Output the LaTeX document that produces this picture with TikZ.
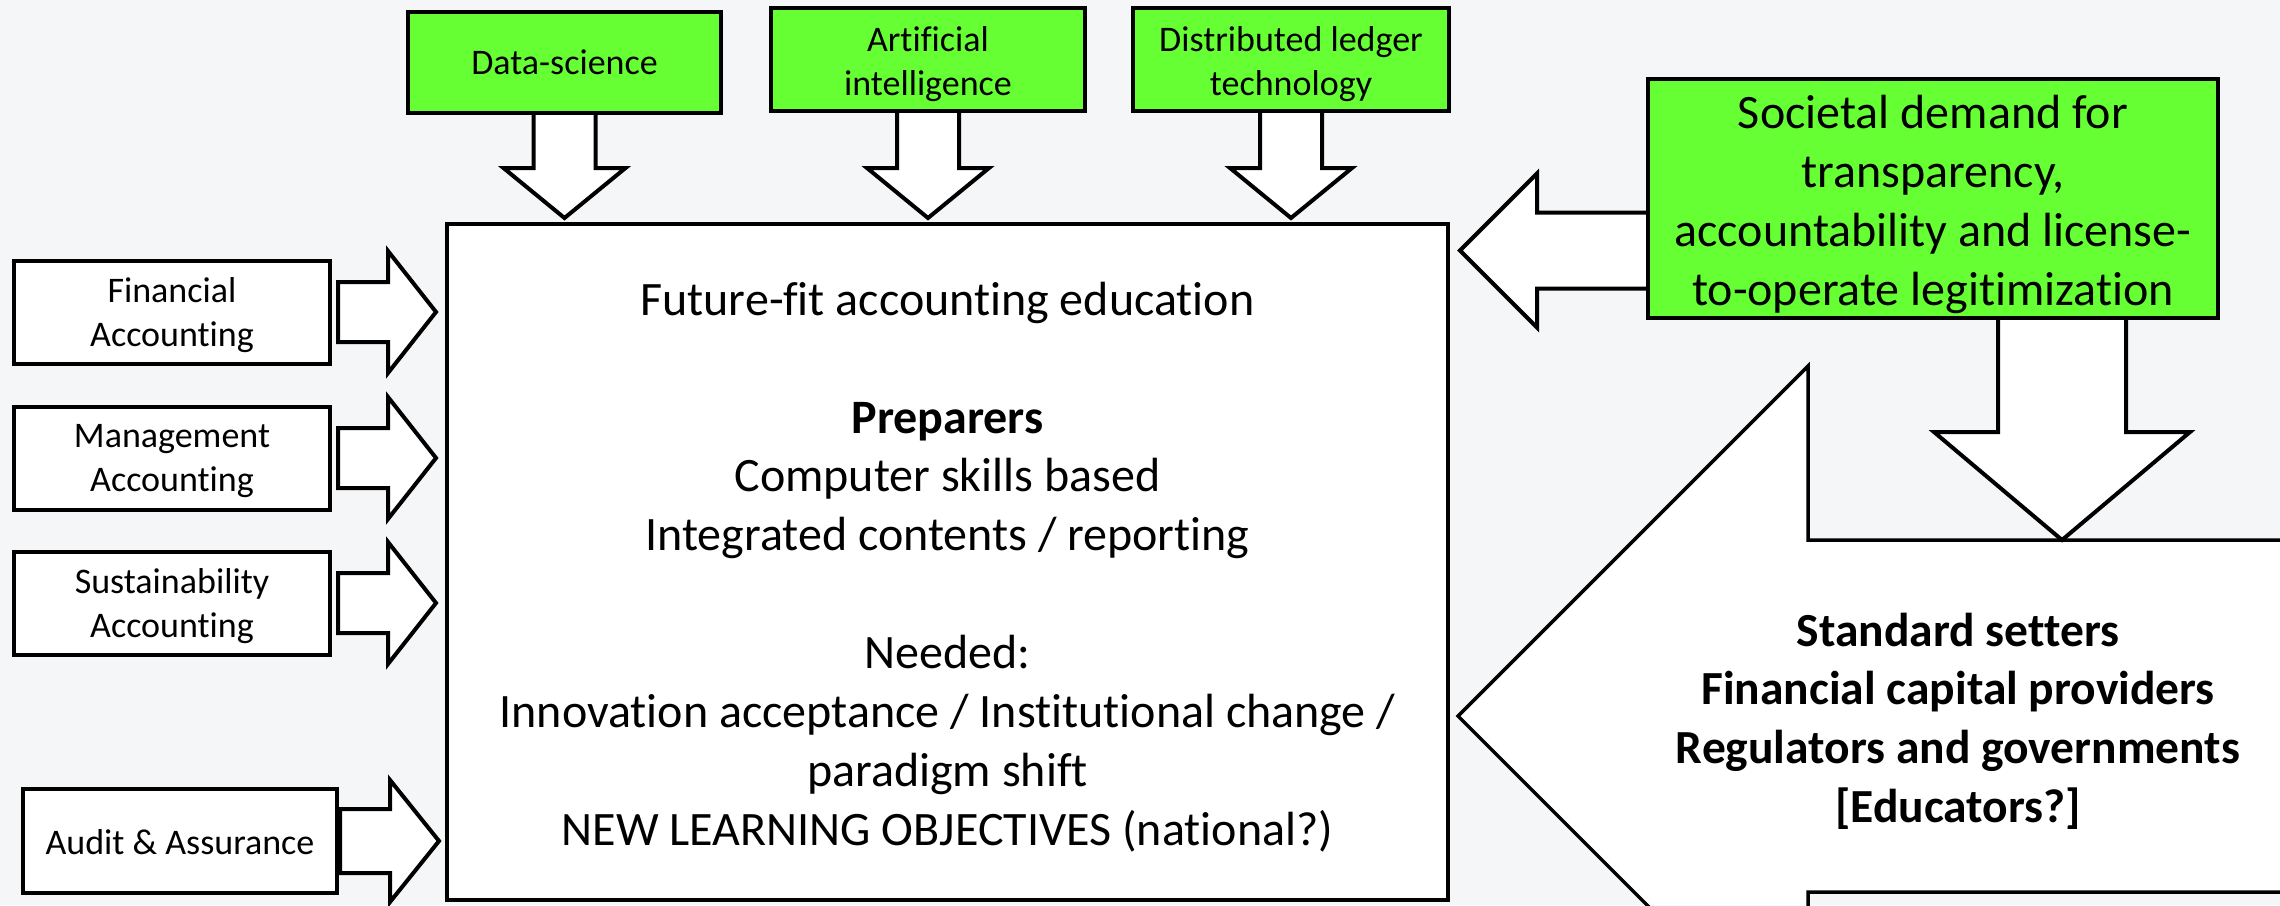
\documentclass[tikz,border=0pt]{standalone}
\usepackage{fontspec}
\setmainfont{Carlito}[Ligatures={NoCommon}]
\usetikzlibrary{calc}
\definecolor{bgc}{RGB}{245,246,248}
\definecolor{grn}{RGB}{102,255,51}
\pgfdeclarelayer{back}
\pgfdeclarelayer{arrows}
\pgfsetlayers{back,arrows,main}
\tikzset{
  box/.style={draw=black, line width=4pt, fill=white, inner sep=0pt},
  gbox/.style={box, fill=grn},
  txt/.style={align=center, inner sep=0pt},
  smalltxt/.style={txt, font=\fontsize{36}{44}\selectfont},
  bigtxt/.style={txt, font=\fontsize{48}{58.9}\selectfont},
  blk/.style={draw=black, fill=white, line width=4pt, line join=miter},
}
% horizontal block arrow: tail, tip, shaft half, head half, head length
\newcommand\arrR[5]{%
  \draw[blk] let \p1=(#1), \p2=(#2) in
    ({\x1},{\y2+#3}) -- ({\x2-(#5)},{\y2+#3}) -- ({\x2-(#5)},{\y2+#4}) -- ({\x2},{\y2})
    -- ({\x2-(#5)},{\y2-#4}) -- ({\x2-(#5)},{\y2-#3}) -- ({\x1},{\y2-#3}) -- cycle;}
% downward block arrow: tail, tip, shaft half, head half, head length
\newcommand\arrD[5]{%
  \draw[blk] let \p1=(#1), \p2=(#2) in
    ({\x2-#3},{\y1}) -- ({\x2-#3},{\y2+#5}) -- ({\x2-#4},{\y2+#5}) -- ({\x2},{\y2})
    -- ({\x2+#4},{\y2+#5}) -- ({\x2+#3},{\y2+#5}) -- ({\x2+#3},{\y1}) -- cycle;}
\begin{document}
\begin{tikzpicture}[x=1pt,y=-1pt]
\begin{pgfonlayer}{back}
\fill[bgc] (0,0) rectangle (2280,905);
\end{pgfonlayer}
\useasboundingbox (0,0) rectangle (2280,905);

% top boxes
\node[gbox, minimum width=313pt, minimum height=101pt] (ds) at (564.5,62.5) {};
\node[smalltxt] (dsT) at ($(ds.center)+(0,0)$) {Data-science};
\node[gbox, minimum width=314pt, minimum height=103pt] (ai) at (928,59.5) {};
\node[smalltxt] (aiT) at ($(ai.center)+(0,5)$) {Artificial\\intelligence};
\node[gbox, minimum width=316pt, minimum height=103pt] (dlt) at (1291,59.5) {};
\node[smalltxt] (dltT) at ($(dlt.center)+(0,5)$) {Distributed ledger\\technology};

% main box
\node[box, minimum width=1001pt, minimum height=676pt] (main) at (947.5,562) {};
\node[bigtxt] (mainT) at ($(main.center)+(0,5)$) {%
Future-fit accounting education\\[58.9pt]
\textbf{Preparers}\\
Computer skills based\\
Integrated contents / reporting\\[58.9pt]
Needed:\\
Innovation acceptance / Institutional change /\\
paradigm shift\\
NEW LEARNING OBJECTIVES (national?)};

% left boxes
\node[box, minimum width=316pt, minimum height=103pt] (fa) at (172,312) {};
\node[smalltxt] (faT) at ($(fa.center)+(0,3)$) {Financial\\Accounting};
\node[box, minimum width=316pt, minimum height=103pt] (ma) at (172,458) {};
\node[smalltxt] (maT) at ($(ma.center)+(0,3)$) {Management\\Accounting};
\node[box, minimum width=316pt, minimum height=103pt] (sa) at (172,603) {};
\node[smalltxt] (saT) at ($(sa.center)+(0,3)$) {Sustainability\\Accounting};
\node[box, minimum width=314pt, minimum height=104pt] (aa) at (180,841) {};
\node[smalltxt] (aaT) at ($(aa.center)+(0,1)$) {Audit \& Assurance};

% societal box
\node[gbox, minimum width=570pt, minimum height=239pt] (soc) at (1933,198.5) {};
\node[bigtxt] (socT) at ($(soc.center)+(0,6)$) {%
Societal demand for\\transparency,\\accountability and license-\\to-operate legitimization};

% stakeholder text
\node[txt, font=\bfseries\fontsize{47.5}{58.7}\selectfont] (stake) at (1958,721) {%
Standard setters\\Financial capital providers\\Regulators and governments\\ {[Educators?]}};

\begin{pgfonlayer}{arrows}
% big arrow
\coordinate (bigtip) at ($(main.east)+(8,154)$);
\draw[blk, line width=3.5pt] (bigtip) -- ++(350,-350) -- ++(0,174) -- ++(500,0) -- ++(0,352)
  -- ++(-500,0) -- ++(0,174) -- cycle;
% top arrows
\arrD{$(ds.south)+(0,-6)$}{$(main.north -| ds.south)+(0,-4)$}{31}{61}{50}
\arrD{$(ai.south)+(0,-6)$}{$(main.north -| ai.south)+(0,-4)$}{31}{61}{50}
\arrD{$(dlt.south)+(0,-6)$}{$(main.north -| dlt.south)+(0,-4)$}{31}{61}{50}
% left arrows
\arrR{$(fa.east)+(6,0)$}{$(main.west |- fa.east)+(-9,0)$}{30}{61}{48}
\arrR{$(ma.east)+(6,0)$}{$(main.west |- ma.east)+(-9,0)$}{30}{61}{48}
\arrR{$(sa.east)+(6,0)$}{$(main.west |- sa.east)+(-9,0)$}{30}{61}{48}
\arrR{$(aa.east)+(1,0)$}{$(main.west |- aa.east)+(-6,0)$}{32}{61}{49}
% societal arrows
\coordinate (sl) at ($(soc.west)+(10,52)$);
\arrR{sl}{$(main.east |- sl)+(10,0)$}{38}{77}{-77}
\coordinate (dt) at ($(soc.south)+(129,-10)$);
\arrD{dt}{$(dt |- bigtip)+(0,-176)$}{64}{128}{108}
\end{pgfonlayer}
\end{tikzpicture}
\end{document}
